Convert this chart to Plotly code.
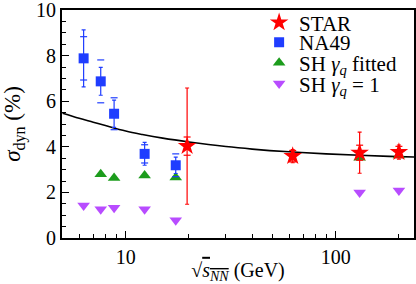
import plotly.graph_objects as go
import numpy as np

# ---- data ----
star_x = [19.6, 62.4, 130.0, 200.0]
star_y = [4.03, 3.59, 3.74, 3.77]
star_stat = [2.55, 0.29, 0.90, 0.31]
star_sys = [0.40, 0.25, 0.33, 0.25]

na49_x = [6.3, 7.6, 8.8, 12.3, 17.3]
na49_y = [7.88, 6.87, 5.45, 3.69, 3.19]
na49_stat = [1.25, 0.61, 0.60, 0.50, 0.36]
na49_sys = [0.95, 0.94, 0.70, 0.40, 0.50]

shfit_x = [7.6, 8.8, 12.3, 17.3, 130.0, 200.0]
shfit_y = [2.80, 2.63, 2.74, 2.65, 3.52, 3.62]

sh1_x = [6.3, 7.6, 8.8, 12.3, 17.3, 130.0, 200.0]
sh1_y = [1.43, 1.26, 1.33, 1.26, 0.78, 2.00, 2.08]

curve_x = [5, 6, 7, 8, 10, 12, 15, 20, 30, 40, 60, 90, 130, 180, 240]
curve_y = [5.47, 5.25, 5.08, 4.93, 4.69, 4.54, 4.38, 4.21, 4.01, 3.90, 3.78, 3.69, 3.63, 3.58, 3.55]

x_major = [10, 100]
x_major_text = ["10", "100"]
x_minor = [5, 6, 7, 8, 9, 20, 30, 40, 50, 60, 70, 80, 90, 200]
y_major = [0, 2, 4, 6, 8, 10]
y_major_text = ["0", "2", "4", "6", "8", "10"]

RED = "#ff0000"
BLUE = "#1f3dff"
GREEN = "#1c9c1c"
PURPLE = "#b84cff"
FONT = "Liberation Serif"

fig = go.Figure()

fig.add_trace(go.Scatter(x=curve_x, y=curve_y, mode="lines", line=dict(color="black", width=1.6, shape="spline"),
                         showlegend=False, hoverinfo="skip"))
# invisible trace to activate the minor-tick overlay axis
fig.add_trace(go.Scatter(x=curve_x, y=curve_y, mode="lines", line=dict(width=0), opacity=0,
                         xaxis="x2", showlegend=False, hoverinfo="skip"))

fig.add_trace(go.Scatter(x=sh1_x, y=sh1_y, mode="markers", name="SH <i>γ</i><sub><i>q</i></sub> = 1",
                         marker=dict(symbol="triangle-down", size=11, color=PURPLE), legend="legend4"))
fig.add_trace(go.Scatter(x=shfit_x, y=shfit_y, mode="markers", name="SH <i>γ</i><sub><i>q</i></sub> fitted",
                         marker=dict(symbol="triangle-up", size=11, color=GREEN), legend="legend3"))

na49_sys_y = list(np.array(na49_y) + np.array(na49_sys)) + list(np.array(na49_y) - np.array(na49_sys))
fig.add_trace(go.Scatter(x=na49_x + na49_x, y=na49_sys_y, mode="markers", showlegend=False,
                         marker=dict(symbol="line-ew", size=5, line=dict(color=BLUE, width=1.2)), hoverinfo="skip"))
fig.add_trace(go.Scatter(x=na49_x, y=na49_y, mode="markers", name="NA49",
                         marker=dict(symbol="square", size=10, color=BLUE),
                         error_y=dict(type="data", array=na49_stat, color=BLUE, thickness=1.2, width=2),
                         legend="legend2"))

star_sys_y = list(np.array(star_y) + np.array(star_sys)) + list(np.array(star_y) - np.array(star_sys))
fig.add_trace(go.Scatter(x=star_x + star_x, y=star_sys_y, mode="markers", showlegend=False,
                         marker=dict(symbol="line-ew", size=5, line=dict(color=RED, width=1.2)), hoverinfo="skip"))
fig.add_trace(go.Scatter(x=star_x, y=star_y, mode="markers", name="STAR",
                         marker=dict(symbol="star", size=14, color=RED),
                         error_y=dict(type="data", array=star_stat, color=RED, thickness=1.2, width=2),
                         legend="legend"))

leg_common = dict(x=0.56, xanchor="left", yanchor="middle", bgcolor="rgba(0,0,0,0)",
                  font=dict(size=21, family=FONT), itemwidth=30)

fig.update_layout(
    width=416, height=284,
    margin=dict(l=62, r=2, t=7, b=46),
    paper_bgcolor="white", plot_bgcolor="white",
    font=dict(family=FONT, size=20, color="black"),
    showlegend=True,
    legend=dict(y=0.944, **leg_common),
    legend2=dict(y=0.857, **leg_common),
    legend3=dict(y=0.767, **leg_common),
    legend4=dict(y=0.676, **leg_common),
    xaxis2=dict(type="log", range=[np.log10(4.97), np.log10(236)], overlaying="x", anchor="y", side="bottom",
                ticks="inside", ticklen=4, tickwidth=1, tickcolor="black", tickvals=x_minor,
                showticklabels=False, showline=False, showgrid=False, zeroline=False, automargin=False),
)

fig.layout.xaxis.update(
    type="log", range=[np.log10(4.97), np.log10(236)],
    showline=True, linecolor="black", linewidth=2, mirror=True,
    ticks="inside", ticklen=7, tickwidth=1.3, tickcolor="black",
    tickvals=x_major, ticktext=x_major_text, tickfont=dict(size=20, family=FONT),
    showgrid=False, zeroline=False, automargin=False, ticklabeloverflow="allow",
    title=dict(text="√<span style='text-decoration:overline'><i>s</i><sub><i>NN</i></sub></span> (GeV)",
               font=dict(size=20, family=FONT), standoff=2),
)
fig.layout.yaxis.update(
    range=[0, 10],
    showline=True, linecolor="black", linewidth=2, mirror=True,
    ticks="inside", ticklen=7, tickwidth=1.3, tickcolor="black",
    tickvals=y_major, ticktext=y_major_text, tickfont=dict(size=20, family=FONT),
    minor=dict(ticks="inside", ticklen=4, tickwidth=1, tickcolor="black", dtick=0.5),
    showgrid=False, zeroline=False, automargin=False, ticklabeloverflow="allow",
    title=dict(text="<i>σ</i><sub>dyn</sub> (%)", font=dict(size=23, family=FONT), standoff=10),
)

fig.write_html("out.html", config={"displayModeBar": False},
               post_script="document.body.style.margin='0';document.body.style.overflow='hidden';")
